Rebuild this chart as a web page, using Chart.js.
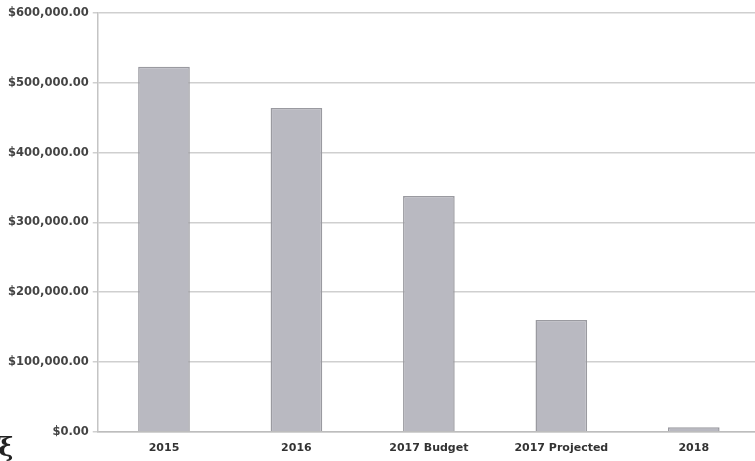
<!DOCTYPE html>
<html>
<head>
<meta charset="utf-8">
<script src="https://cdn.jsdelivr.net/npm/chart.js@4"></script>
<style>
    html, body { margin: 0; padding: 0; background: #fff; overflow: hidden; }
    #wrap { position: relative; width: 760px; height: 465px; }
</style>
</head>
<body>
<div id="wrap"><canvas id="budgetChart"></canvas></div>
<script>
const categories = ['2015', '2016', '2017 Budget', '2017 Projected', '2018'];
const amounts = [523000, 464000, 338000, 160000, 6500];
const tickValues = [0, 100000, 200000, 300000, 400000, 500000, 600000];

const money = v => '$' + v.toLocaleString('en-US', { minimumFractionDigits: 2, maximumFractionDigits: 2 });

// stray pen mark in the lower left corner of the page
const cornerMark = {
    id: 'cornerMark',
    afterDraw(chart) {
        const ctx = chart.ctx;
        ctx.save();
        ctx.fillStyle = '#222';
        ctx.font = 'bold 26px "DejaVu Serif"';
        ctx.textBaseline = 'alphabetic';
        ctx.fillText('ξ', -2, 456);
        ctx.restore();
    }
};

const config = {
    type: 'bar',
    data: {
        labels: categories,
        datasets: [{
            data: amounts,
            backgroundColor: '#b9b9c1',
            borderColor: '#9a9aa0',
            borderWidth: 1.5,
            barPercentage: 0.39,
            categoryPercentage: 1
        }]
    },
    options: {
        responsive: true,
        maintainAspectRatio: false,
        animation: false,
        layout: { padding: { left: 4, top: 13, right: 0, bottom: 0 } },
        plugins: {
            legend: { display: false },
            tooltip: { enabled: false }
        },
        scales: {
            x: {
                grid: { display: false, drawTicks: false },
                border: { color: '#bdbdbd', width: 1.5 },
                ticks: {
                    padding: 10,
                    color: '#333',
                    font: { family: '"DejaVu Sans"', size: 11, weight: 'bold' }
                }
            },
            y: {
                min: 0,
                max: 600000,
                afterBuildTicks: axis => { axis.ticks = tickValues.map(v => ({ value: v })); },
                grid: { color: '#cfcfcf', lineWidth: 1.5, tickLength: 5 },
                border: { color: '#c4c4c4', width: 1.5 },
                ticks: {
                    padding: 4,
                    color: '#444',
                    font: { family: '"DejaVu Sans"', size: 11.5, weight: 'bold' },
                    callback: v => money(v)
                }
            }
        }
    },
    plugins: [cornerMark]
};

new Chart(document.getElementById('budgetChart'), config);
</script>
</body>
</html>
